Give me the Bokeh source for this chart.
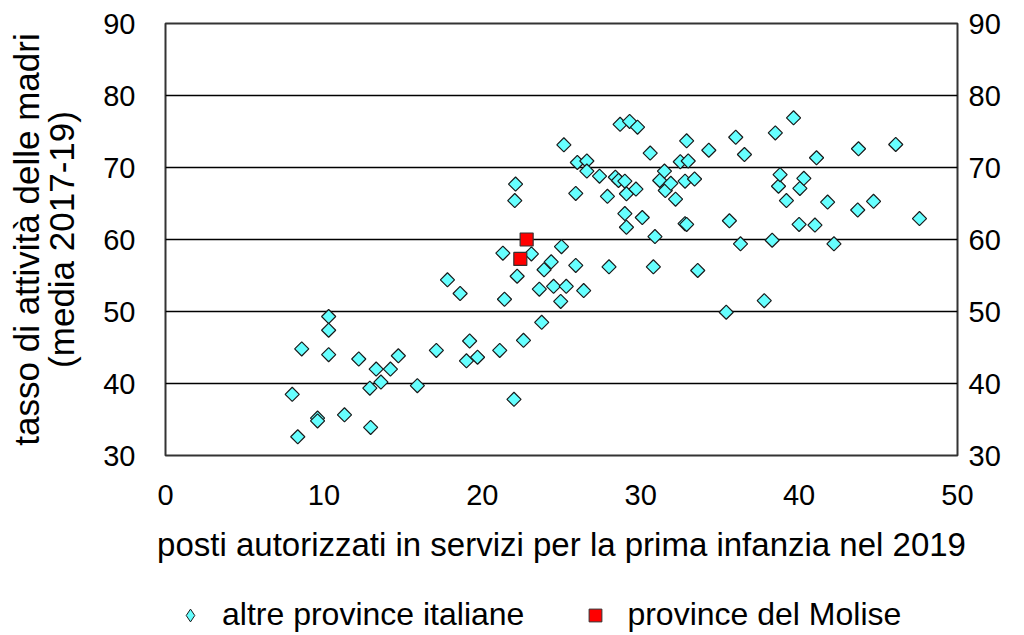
import numpy as np
from bokeh.plotting import figure
from bokeh.layouts import column
from bokeh.models import LinearAxis, Range1d, FixedTicker, Legend, LegendItem, ColumnDataSource
from bokeh.embed import file_html
from bokeh.resources import INLINE

# altre province italiane
altre_x = [8.0, 8.35, 8.6, 9.6, 9.6, 10.3, 10.3, 10.3, 11.3, 12.2, 12.95, 12.9, 13.3, 13.6,
           14.2, 14.7, 15.9, 17.1, 17.8, 18.6, 19.0, 19.2, 19.7, 21.1, 21.3, 21.4, 22.0, 22.05,
           22.1, 22.2, 22.6, 23.1, 23.6, 23.75, 23.9, 24.35, 24.5, 24.95, 25.0, 25.15, 25.3,
           25.9, 25.9, 26.0, 26.4, 26.6, 26.6, 27.4, 27.9, 28.0, 28.4, 28.6, 28.7, 29.0, 29.0,
           29.1, 29.1, 29.3, 29.7, 29.8, 30.1, 30.6, 30.8, 30.9, 31.2, 31.5, 31.55, 31.9, 32.2,
           32.5, 32.8, 32.8, 32.9, 32.9, 33.0, 33.4, 33.6, 34.3, 35.4, 35.6, 36.0, 36.3, 36.55,
           37.8, 38.3, 38.5, 38.7, 38.8, 39.2, 39.65, 40.0, 40.05, 40.3, 41.0, 41.1, 41.8, 42.2,
           43.7, 43.75, 44.7, 46.1, 47.6]
altre_y = [38.5, 32.6, 44.8, 35.2, 34.8, 49.3, 47.4, 44.0, 35.65, 43.4, 33.9, 39.35, 42.0, 40.2,
           42.0, 43.85, 39.7, 44.6, 54.4, 52.5, 43.15, 45.9, 43.65, 44.6, 58.1, 51.7, 37.8, 65.4,
           67.7, 54.9, 46.0, 58.0, 53.1, 48.5, 55.8, 56.9, 53.5, 51.4, 59.0, 73.15, 53.5,
           56.4, 66.4, 70.7, 52.9, 70.9, 69.5, 68.8, 66.0, 56.2, 68.65, 68.2, 76.0, 68.1, 63.6,
           66.35, 61.7, 76.4, 67.0, 75.6, 63.05, 72.0, 56.2, 60.4, 68.2, 69.5, 66.8, 67.8, 65.6,
           70.8, 68.1, 62.2, 62.1, 73.7, 70.9, 68.4, 55.7, 72.4, 49.9, 62.6, 74.2, 59.4, 71.8,
           51.5, 59.9, 74.8, 67.4, 69.0, 65.4, 76.9, 62.1, 67.1, 68.5, 62.0, 71.35, 65.2, 59.4,
           64.1, 72.6, 65.3, 73.2, 62.9]

# province del Molise
molise_x = [22.8, 22.4]
molise_y = [60.0, 57.3]

x_ticks = [0, 10, 20, 30, 40, 50]
y_ticks = [30, 40, 50, 60, 70, 80, 90]

FONT = "Liberation Sans"
CYAN = "#66FFFF"
RED = "#FF0000"

p = figure(width=1016, height=578, output_backend="svg", toolbar_location=None,
           x_range=Range1d(0, 50), y_range=Range1d(30, 90),
           frame_width=792, frame_height=432,
           min_border_left=165, min_border_right=59, min_border_top=23, min_border_bottom=123)

p.background_fill_color = "white"
p.border_fill_color = "white"
p.outline_line_color = "#333333"
p.outline_line_width = 2

p.xgrid.visible = False
p.ygrid.ticker = FixedTicker(ticks=y_ticks)
p.ygrid.grid_line_color = "black"
p.ygrid.grid_line_width = 1.5

def style_axis(ax, ticks, standoff):
    ax.ticker = FixedTicker(ticks=ticks)
    ax.axis_line_color = None
    ax.major_tick_line_color = None
    ax.minor_tick_line_color = None
    ax.major_label_text_font = FONT
    ax.major_label_text_font_size = "29px"
    ax.major_label_text_color = "black"
    ax.major_label_standoff = standoff

style_axis(p.xaxis[0], x_ticks, 23)
style_axis(p.yaxis[0], y_ticks, 24)

p.xaxis[0].axis_label = "posti autorizzati in servizi per la prima infanzia nel 2019"
p.xaxis[0].axis_label_text_font = FONT
p.xaxis[0].axis_label_text_font_size = "33px"
p.xaxis[0].axis_label_text_font_style = "normal"
p.xaxis[0].axis_label_text_color = "black"
p.xaxis[0].axis_label_standoff = 18

p.yaxis[0].axis_label = "tasso di attività delle madri\n(media 2017-19)"
p.yaxis[0].axis_label_text_font = FONT
p.yaxis[0].axis_label_text_font_size = "35px"
p.yaxis[0].axis_label_text_font_style = "normal"
p.yaxis[0].axis_label_text_color = "black"
p.yaxis[0].axis_label_text_line_height = 0.9
p.yaxis[0].axis_label_standoff = 19

right = LinearAxis()
style_axis(right, y_ticks, 5)
p.add_layout(right, "right")

src_a = ColumnDataSource(dict(x=altre_x, y=altre_y))
src_m = ColumnDataSource(dict(x=molise_x, y=molise_y))

p.scatter("x", "y", source=src_a, marker="square", size=10, angle=np.pi / 4,
          fill_color=CYAN, line_color="#1a1a1a", line_width=1.2)
p.scatter("x", "y", source=src_m, marker="square", size=13,
          fill_color=RED, line_color="#333333", line_width=1.2)

# legend strip below the chart
leg = figure(width=1016, height=57, output_backend="svg", toolbar_location=None,
             x_range=Range1d(100, 101), y_range=Range1d(100, 101),
             min_border_left=0, min_border_right=0, min_border_top=0, min_border_bottom=0)
leg.axis.visible = False
leg.grid.visible = False
leg.outline_line_color = None
leg.background_fill_color = "white"
leg.border_fill_color = "white"

la = leg.scatter("x", "y", source=src_a, marker="diamond", size=16,
                 fill_color=CYAN, line_color="#1a1a1a", line_width=1)
lm = leg.scatter("x", "y", source=src_m, marker="square", size=13,
                 fill_color=RED, line_color="#333333", line_width=1)

legend = Legend(items=[LegendItem(label="altre province italiane", renderers=[la]),
                       LegendItem(label="province del Molise", renderers=[lm])],
                orientation="horizontal", location=(9, 2),
                label_text_font=FONT, label_text_font_size="32px",
                label_text_color="black",
                border_line_color=None, background_fill_alpha=0,
                spacing=55, glyph_width=32, glyph_height=32, label_standoff=16,
                padding=0, margin=0)
leg.add_layout(legend, "center")

layout = column(p, leg, spacing=0)
open("out.html", "w").write(file_html(layout, INLINE))
